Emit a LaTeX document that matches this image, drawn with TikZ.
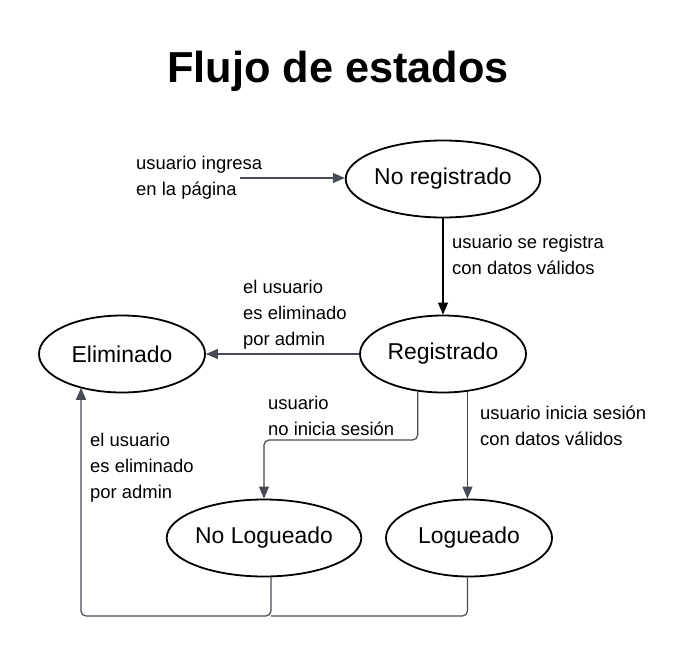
\documentclass[tikz,border=0pt]{standalone}
\usepackage{fontspec}
\setmainfont{Liberation Sans}
\usetikzlibrary{shapes.geometric,arrows.meta}
\definecolor{linegray}{RGB}{70,75,85}

\begin{document}
\begin{tikzpicture}[x=1bp,y=-1bp,
	state/.style={draw=black,line width=1.8bp,ellipse,minimum width=166bp,minimum height=77bp,inner sep=0pt,font=\fontsize{23}{27}\selectfont},
	lbl/.style={anchor=base west,align=left,inner sep=0pt,font=\fontsize{18.5}{26}\selectfont},
	flow/.style={draw=linegray,line width=1.2bp,rounded corners=5bp,-{Triangle[length=12bp,width=10bp]}}]
	\useasboundingbox (0,0) rectangle (688,657);
	\node [anchor=base] (title) at (338,83) {\fontsize{43.5}{48}\selectfont\bfseries Flujo de estados};
	% states
	\node [state] (noreg) at (443,179) {No registrado};
	\node [state] (reg) at (443,354) {Registrado};
	\node [state] (elim) at (122,354) {Eliminado};
	\node [state] (nolog) at (264,538) {No Logueado};
	\node [state] (log) at (469,538) {Logueado};
	\coordinate (start) at (240,178);
	\coordinate (split) at (264,440);
	\coordinate (bottom) at (81,616);
	% transitions
	\draw [flow] (start) -- (start -| noreg.west);
	\draw [flow,draw=black] (noreg) -- (reg);
	\draw [flow] (reg) -- (elim);
	\draw [flow] (reg.236) |- (split) -- (nolog);
	\draw [flow] (reg.303) -- (reg.303 |- log.north);
	\draw [flow] (nolog.280) |- (bottom) -- (bottom |- elim.218);
	\draw [draw=linegray,line width=1.2bp,rounded corners=5bp] (log.south -| reg.303) |- (nolog.280 |- bottom);
	% labels (placed at the baseline of their last line)
	\node [lbl] (l1) at (136,195) {usuario ingresa\\en la página};
	\node [lbl] (l2) at (452,274) {usuario se registra\\con datos válidos};
	\node [lbl] (l3) at (243,345) {el usuario\\es eliminado\\por admin};
	\node [lbl] (l4) at (268,435) {usuario\\no inicia sesión};
	\node [lbl] (l5) at (480,445) {usuario inicia sesión\\con datos válidos};
	\node [lbl] (l6) at (90,498) {el usuario\\es eliminado\\por admin};
\end{tikzpicture}
\end{document}
